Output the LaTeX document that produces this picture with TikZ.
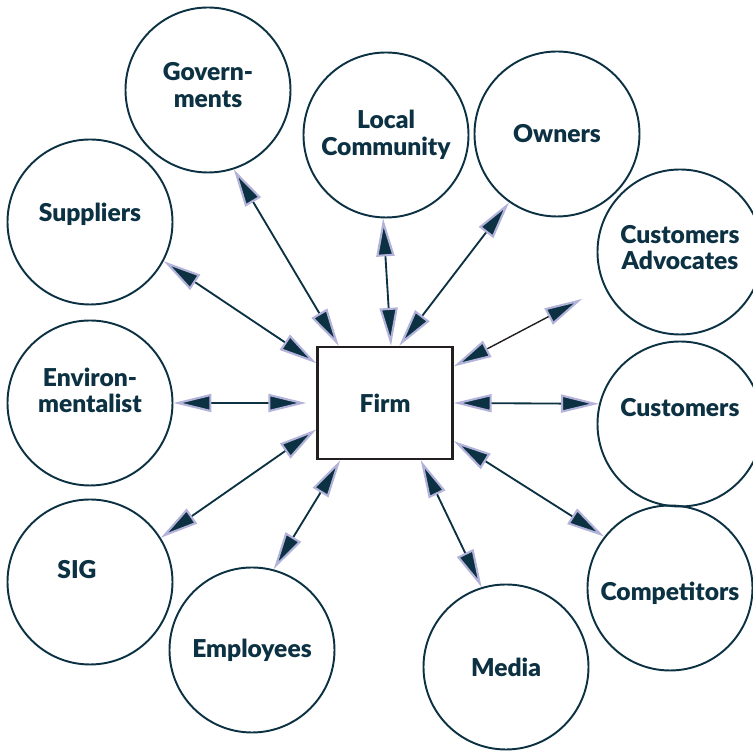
\documentclass[tikz,border=0pt]{standalone}
\usepackage{fontspec}
\setmainfont{Lato}[BoldFont={Lato Black}]
\usetikzlibrary{positioning,arrows.meta}

\definecolor{ink}{HTML}{0B3142}
\definecolor{halo}{HTML}{B2B2DA}
\definecolor{frame}{HTML}{231F20}

\tikzset{
  spear/.tip={Triangle[length=0.76cm,width=0.36cm,fill=ink,color=halo,line width=1.2pt]},
  party/.style={circle,draw=ink,line width=1.1pt,minimum size=3.3cm,inner sep=0pt,
                text=ink,align=center,font=\fontsize{14}{15}\selectfont\bfseries},
  firmbox/.style={rectangle,draw=frame,line width=1.3pt,minimum width=2.7cm,minimum height=2.24cm,
                text=ink,font=\fontsize{14}{15}\selectfont\bfseries},
  link/.style={draw=ink,line width=1.05pt,spear-spear},
  up/.style={text depth=#1},
  down/.style={text height=#1}
}

\begin{document}
\begin{tikzpicture}[on grid]
	\useasboundingbox (-7.7,-6.96) rectangle (7.36,8.06);
	\clip (-7.7,-6.96) rectangle (7.36,8.06);

	\node[firmbox]	(firm)											{Firm};

	\node[party,up=0.2cm]	(gov)	[above left=6.26cm and 3.54cm of firm]	{Govern-\\ments};
	\node[party,up=0.38cm]	(sup)	[above left=3.62cm and 5.9cm of firm]	{Suppliers};
	\node[party]	(loc)	[above=5.36cm of firm, xshift=0.02cm]	{Local\\Community};
	\node[party]	(own)	[above right=5.38cm and 3.44cm of firm]	{Owners};
	\node[party,down=0.72cm]	(adv)	[above right=3.02cm and 5.9cm of firm]	{Customers\\Advocates};
	\node[party,up=0.68cm]	(cus)	[below right=0.42cm and 5.9cm of firm]	{Customers};
	\node[party,down=0.6cm]	(com)	[below right=3.7cm and 5.7cm of firm]	{Competitors};
	\node[party]	(med)	[below right=5.28cm and 2.42cm of firm]	{Media};
	\node[party]	(emp)	[below left=4.94cm and 2.66cm of firm]	{Employees};
	\node[party,up=0.52cm]	(sig)	[below left=3.58cm and 5.9cm of firm]	{SIG\hspace*{0.52cm}};
	\node[party,up=0.52cm]	(env)	[left=5.9cm of firm]					{Environ-\\mentalist};

	\draw[link]	(firm.129)	--	(gov.-72);
	\draw[link]	(firm.150)	--	(sup.-28);
	\draw[link]	(firm.84)	--	(loc.-92);
	\draw[link]	(firm.76)	--	(own.-125);
	\draw[link,draw=frame,line width=0.8pt,shorten >=0.5cm]	(firm.28)	--	(adv.-155);
	\draw[link,shorten <=0.2cm]	(firm.180)	--	(env.0);
	\draw[link]	(firm.0)	--	(cus.166);
	\draw[link]	(firm.-159)	--	(sig.32);
	\draw[link]	(firm.-128)	--	(emp.75);
	\draw[link]	(firm.-58)	--	(med.107);
	\draw[link]	(firm.-29)	--	(com.142);
\end{tikzpicture}
\end{document}
